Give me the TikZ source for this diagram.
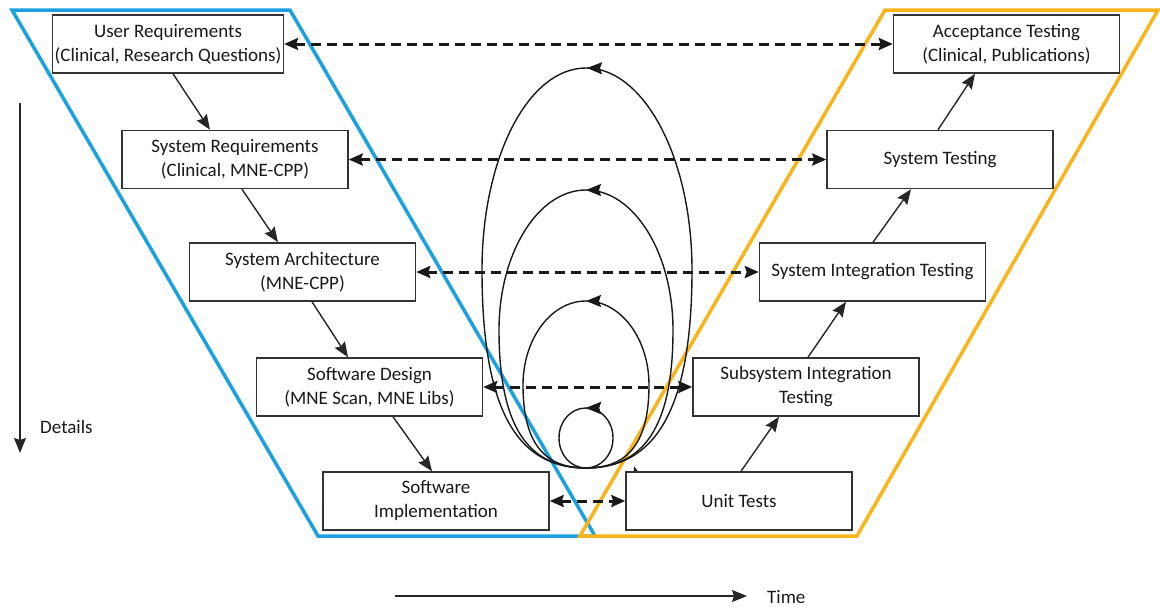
\documentclass[tikz,border=0pt]{standalone}
\usepackage{fontspec}
\setmainfont{Carlito}
\usetikzlibrary{arrows.meta,calc,decorations.markings}
\definecolor{vblue}{RGB}{27,160,226}
\definecolor{vorange}{RGB}{250,180,25}
\begin{document}
\begin{tikzpicture}[x=1pt,y=-1pt,
  box/.style={draw=black!80,line width=1.5pt,fill=white,minimum width=226pt,minimum height=58pt,
    align=center,inner sep=2pt,font=\fontsize{19}{24}\selectfont,text=black!90},
  flow/.style={line width=1.4pt,black!85,-{Stealth[length=15pt,width=12pt,inset=2pt]}},
  link/.style={line width=3pt,black!90,dash pattern=on 10pt off 6pt,
    {Stealth[length=14pt,width=12pt,inset=2pt]}-{Stealth[length=14pt,width=12pt,inset=2pt]}},
  cycleloop/.style={line width=1.4pt,black!90,postaction={decorate},
    decoration={markings,mark=at position 0.5 with {\arrow{Stealth[length=15pt,width=12pt,inset=2pt]}}}},
  side/.style={line width=3.5pt,line join=miter},
  lbl/.style={font=\fontsize{19}{24}\selectfont,text=black!90,anchor=west,inner sep=0pt}]
\useasboundingbox (0,0) rectangle (1160,608);

% V-model sides
\draw[side,vblue] (12,10) -- (290,10) -- (595,536) -- (318,536) -- cycle;
\draw[side,vorange] (885,10) -- (1158,10) -- (857,536) -- (580,536) -- cycle;

% iteration loops
\draw[cycleloop] (586,468) .. controls (655,468) and (692,410) .. (692,270)
  .. controls (692,158) and (644,68) .. (586,68)
  .. controls (528,68) and (482,158) .. (482,270)
  .. controls (482,410) and (517,468) .. (586,468);
\draw[cycleloop] (586,468) .. controls (643,468) and (673,428) .. (673,330)
  .. controls (673,253) and (634,190) .. (586,190)
  .. controls (538,190) and (499,253) .. (499,330)
  .. controls (499,428) and (529,468) .. (586,468);
\draw[cycleloop] (586,468) .. controls (627,468) and (649,444) .. (649,385)
  .. controls (649,339) and (621,301) .. (586,301)
  .. controls (551,301) and (523,339) .. (523,385)
  .. controls (523,444) and (545,468) .. (586,468);
\draw[cycleloop,decoration={markings,
    mark=at position 0.5 with {\arrow{Stealth[length=15pt,width=12pt,inset=2pt]}},
    mark=at position 0.05 with {\arrow{Stealth[length=15pt,width=12pt,inset=2pt]}}}]
  (586,468) .. controls (601,468) and (613,455) .. (613,438)
  .. controls (613,421) and (601,408) .. (586,408)
  .. controls (571,408) and (559,421) .. (559,438)
  .. controls (559,455) and (571,468) .. (586,468);

% boxes
\node[box] (UR) at (168,44) {User Requirements\\(Clinical, Research Questions)};
\node[box] (SR) at (235,159.5) {System Requirements\\(Clinical, MNE-CPP)};
\node[box] (SA) at (302.5,272) {System Architecture\\(MNE-CPP)};
\node[box] (SD) at (369.5,387) {Software Design\\(MNE Scan, MNE Libs)};
\node[box] (SI) at (436,501) {Software\\Implementation};
\node[box] (UT) at (739,501) {Unit Tests};
\node[box] (SsI) at (806,387) {Subsystem Integration\\Testing};
\node[box] (SyI) at (872.5,272) {System Integration Testing};
\node[box] (ST) at (940,159.5) {System Testing};
\node[box] (AT) at (1006.5,44) {Acceptance Testing\\(Clinical, Publications)};

% verification links
\draw[link] (UR.east) -- (AT.west);
\draw[link] (SR.east) -- (ST.west);
\draw[link] (SA.east) -- (SyI.west);
\draw[link] (SD.east) -- (SsI.west);
\draw[link] (SI.east) -- (UT.west);

% flow arrows
\draw[flow] ($(UR.south)+(5,0)$) -- ($(SR.north)+(-25,0)$);
\draw[flow] ($(SR.south)+(7,0)$) -- ($(SA.north)+(-24.5,0)$);
\draw[flow] ($(SA.south)+(9.5,0)$) -- ($(SD.north)+(-21.5,0)$);
\draw[flow] ($(SD.south)+(23.5,0)$) -- ($(SI.north)+(-4,0)$);
\draw[flow] ($(UT.north)+(2,0)$) -- ($(SsI.south)+(-27,0)$);
\draw[flow] ($(SsI.north)+(2,0)$) -- ($(SyI.south)+(-26.5,0)$);
\draw[flow] ($(SyI.north)+(0.5,0)$) -- ($(ST.south)+(-29,0)$);
\draw[flow] ($(ST.north)+(-2,0)$) -- ($(AT.south)+(-31.5,0)$);

% axes
\coordinate (dtop) at (20,103);
\coordinate (dbot) at (20,453);
\draw[flow] (dtop) -- (dbot);
\node[lbl] (details) at (40,427) {Details};
\coordinate (tstart) at (395,596);
\coordinate (tend) at (747,596);
\draw[flow] (tstart) -- (tend);
\node[lbl] (time) at (767,597) {Time};
\end{tikzpicture}
\end{document}
